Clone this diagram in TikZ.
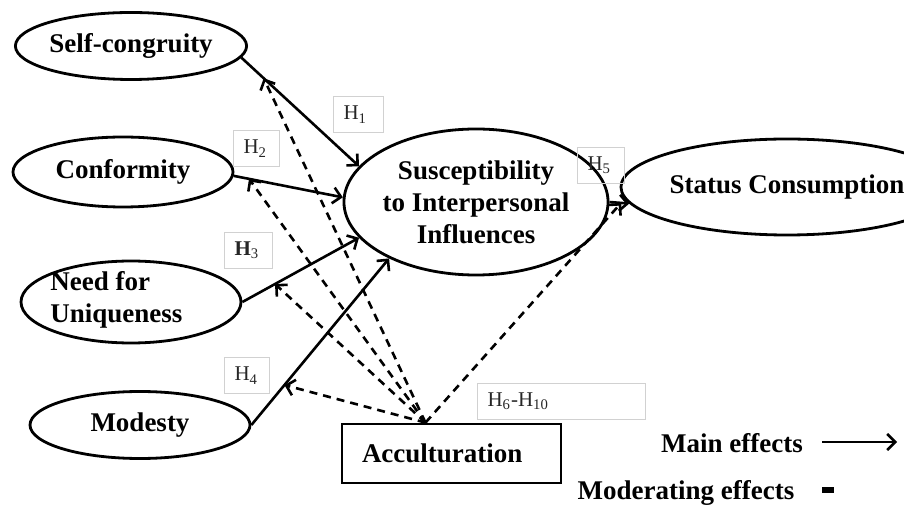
\documentclass[tikz,border=0pt]{standalone}
\usepackage{fontspec}
\setmainfont{Liberation Serif}
\usetikzlibrary{shapes.geometric,arrows.meta}

\begin{document}
\begin{tikzpicture}[x=0.5pt,y=-0.5pt,
    latent/.style={ellipse, draw, line width=1.4pt, inner sep=0pt, align=center,
                   font=\fontsize{13.5}{16}\selectfont\bfseries},
    lbl/.style={font=\fontsize{13.5}{16}\selectfont\bfseries, inner sep=0pt},
    hbox/.style={draw=black!18, line width=0.5pt, anchor=north west, inner xsep=5pt,
                 inner ysep=0pt, minimum height=18pt, align=left,
                 font=\fontsize{10.5}{12}\selectfont, text=black!85},
    main/.style={line width=1.3pt, -{Straight Barb[length=4pt,width=8pt,line width=1.3pt]}},
    moder/.style={main, dash pattern=on 4pt off 3pt}]
    \useasboundingbox (0,0) rectangle (904,507);

    % Costrutti
    \node[latent, minimum width=111pt, minimum height=33.5pt] (sc) at (131,46) {Self-congruity};
    \node[latent, minimum width=110pt, minimum height=35pt] (conf) at (123,172) {Conformity};
    \node[latent, minimum width=110pt, minimum height=41pt] (nfu) at (131,302) {};
    \node[lbl, align=left, anchor=west] (nfutxt) at (50,300) {Need for\\Uniqueness};
    \node[latent, minimum width=110pt, minimum height=33.5pt] (mod) at (140,425) {Modesty};
    \node[latent, minimum width=110.5pt, minimum height=73pt] (sii) at (476,202)
        {Susceptibility\\to Interpersonal\\Influences};
    \node[latent, minimum width=124pt, minimum height=48pt] (stat) at (787,187) {Status Consumption};
    \node[draw, line width=1.4pt, minimum width=109.5pt, minimum height=29.5pt, text width=89.5pt,
          inner xsep=10pt, align=left, font=\fontsize{13.5}{16}\selectfont\bfseries] (acc)
          at (451.5,453.5) {Acculturation};
    \coordinate (hub) at ([xshift=-13pt]acc.north);

    % Ipotesi
    \node[hbox, text width=15pt] (h1) at (333,96) {H\textsubscript{1}};
    \node[hbox, text width=13pt] (h2) at (233,130) {H\textsubscript{2}};
    \node[hbox, text width=14pt] (h3) at (224,232) {\textbf{H}\textsubscript{3}};
    \node[hbox, text width=12.5pt] (h4) at (224,357) {H\textsubscript{4}};
    \node[hbox, text width=13.5pt] (h5) at (577,147) {H\textsubscript{5}};
    \node[hbox, text width=74pt] (h6) at (477,383) {H\textsubscript{6}-H\textsubscript{10}};

    % Effetti principali
    \draw[main] (sc.-6) -- coordinate[pos=0.19] (psc) (sii.163);
    \draw[main] (conf.-2) -- coordinate[pos=0.14] (pconf) (sii.178);
    \draw[main] (nfu.east) -- coordinate[pos=0.28] (pnfu) (sii.197);
    \draw[main] (mod.east) -- coordinate[pos=0.24] (pmod) (sii.213);
    \draw[main] (sii.east) -- coordinate[pos=0.59] (psii) (stat.186);

    % Effetti di moderazione
    \draw[moder] (hub) -- (psc);
    \draw[moder] (hub) -- (pconf);
    \draw[moder] (hub) -- (pnfu);
    \draw[moder] (hub) -- (pmod);
    \draw[moder] (hub) -- (psii);

    % Legenda
    \node[lbl] (mainlbl) at (732,443) {Main effects};
    \coordinate (mainA) at (822,442);
    \coordinate (mainB) at (897,442);
    \draw[main, line width=1pt] (mainA) -- (mainB);
    \node[lbl] (modlbl) at (686,493) {Moderating effects};
    \coordinate (modA) at (822,490);
    \coordinate (modB) at (834,490);
    \draw[line width=3.2pt] (modA) -- (modB);
\end{tikzpicture}
\end{document}
